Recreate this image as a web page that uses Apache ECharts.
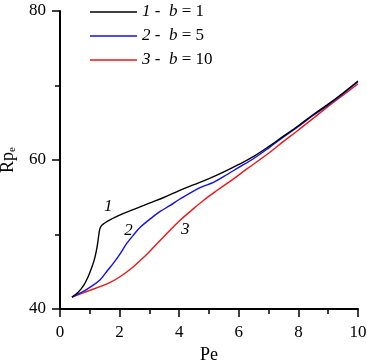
<!DOCTYPE html>
<html><head><meta charset="utf-8">
<script src="https://cdn.jsdelivr.net/npm/echarts@6/dist/echarts.min.js"></script>
<style>html,body{margin:0;padding:0;background:#fff}#c{width:367px;height:364px}</style>
</head><body><div id="c"></div>
<script>
var pe1 = [0.4,0.6,0.8,0.95,1.05,1.15,1.22,1.27,1.31,1.35,1.42,1.6,2.0,2.5,3.0,3.5,4.0,4.5,5.0,5.5,6.0,6.5,7.0,7.5,8.0,8.5,9.0,9.5,10];
var rp1 = [41.6,42.2,43.2,44.4,45.4,46.6,47.8,49.0,50.2,50.9,51.3,51.8,52.6,53.4,54.2,55.0,55.9,56.7,57.5,58.4,59.4,60.5,61.8,63.2,64.6,66.1,67.5,69.0,70.6];
var pe2 = [0.4,0.8,1.0,1.34,1.6,1.8,2.0,2.24,2.5,2.7,3.0,3.36,3.7,4.0,4.7,5.15,5.5,6.0,6.5,7.0,7.4,8.0,8.5,9.0,9.5,10];
var rp2 = [41.6,42.4,42.9,43.9,45.2,46.2,47.3,48.8,50.1,51.0,52.0,53.1,53.9,54.7,56.3,57.0,57.8,59.0,60.2,61.6,62.8,64.5,66.0,67.4,68.9,70.5];
var pe3 = [0.4,0.8,1.0,1.34,1.7,2.0,2.35,2.69,3.0,3.36,3.7,4.03,4.4,4.82,5.3,5.8,6.27,7.0,7.5,7.96,8.5,9.0,9.5,10];
var rp3 = [41.6,42.2,42.5,43.0,43.6,44.3,45.3,46.5,47.7,49.2,50.6,51.9,53.2,54.6,56.0,57.4,58.8,60.9,62.5,63.9,65.6,67.2,68.7,70.2];
var seriesNames = ['1','2','3'];
var bValues = ['1','5','10'];
var curveLabelPos = [[1.62,53.8],[2.3,50.5],[4.2,50.7]];
var xTicks = [0,2,4,6,8,10];
var yTicks = [40,60,80];

function pairs(xs, ys){ return xs.map(function(x,i){return [x, ys[i]];}); }
var colors = ['#000000','#1010ee','#ee1515'];
var data = [pairs(pe1,rp1), pairs(pe2,rp2), pairs(pe3,rp3)];
var FONT = '"Liberation Serif","Times New Roman",serif';

var series = seriesNames.map(function(n,i){
  return {
    name: n, type: 'line', data: data[i], showSymbol: false, symbol: 'none',
    smooth: 0.35,
    lineStyle: {color: colors[i], width: 1.4}, itemStyle: {color: colors[i]},
    z: 3 - i,
    markPoint: {
      symbol: 'circle', symbolSize: 0,
      data: [{coord: curveLabelPos[i], value: n}],
      label: {show: true, position: 'inside', formatter: n, fontFamily: FONT, fontStyle: 'italic', fontSize: 17, color: '#000'}
    }
  };
});

var chart = echarts.init(document.getElementById('c'));
chart.setOption({
  animation: false,
  backgroundColor: '#fff',
  grid: {left: 60, right: 9, top: 11, bottom: 55, containLabel: false, outerBoundsMode: 'none'},
  legend: {
    orient: 'vertical', left: 90, top: 3, padding: 0, itemWidth: 47, itemHeight: 18, itemGap: 6,
    icon: 'path://M0,6 L47,6 L47,7.4 L0,7.4 Z',
    data: seriesNames.map(function(n,i){ return {name: n, itemStyle: {color: colors[i]}}; }),
    formatter: function(name){ var i = seriesNames.indexOf(name); return '{i|' + name + '}{t| -  }{i|b}{t| = ' + bValues[i] + '}'; },
    textStyle: {
      fontFamily: FONT, fontSize: 17, color: '#000', lineHeight: 18,
      rich: {
        i: {fontFamily: FONT, fontSize: 17, fontStyle: 'italic', color: '#000', lineHeight: 18},
        t: {fontFamily: FONT, fontSize: 17, color: '#000', lineHeight: 18}
      }
    }
  },
  xAxis: {
    type: 'value', min: 0, max: 10, interval: 2,
    name: 'Pe', nameLocation: 'middle', nameGap: 36,
    nameTextStyle: {fontFamily: FONT, fontSize: 18, color: '#000'},
    axisLine: {show: true, onZero: false, lineStyle: {color: '#000', width: 2}},
    axisTick: {show: true, inside: false, length: 8, lineStyle: {color: '#000', width: 1.5}},
    minorTick: {show: true, splitNumber: 2, length: 5, lineStyle: {color: '#000', width: 1.5}},
    axisLabel: {fontFamily: FONT, fontSize: 17, color: '#000', margin: 15, inside: false,
      formatter: function(v){ return xTicks.indexOf(v) >= 0 ? String(v) : ''; }},
    splitLine: {show: false}
  },
  yAxis: {
    type: 'value', min: 40, max: 80, interval: 20,
    name: '{a|Rp}{s|e}', nameLocation: 'middle', nameGap: 41,
    nameTextStyle: {fontFamily: FONT, fontSize: 18, color: '#000',
      rich: {a: {fontFamily: FONT, fontSize: 18, color: '#000'},
             s: {fontFamily: FONT, fontSize: 11, color: '#000', padding: [9,0,0,0]}}},
    axisLine: {show: true, onZero: false, lineStyle: {color: '#000', width: 2}},
    axisTick: {show: true, inside: false, length: 8, lineStyle: {color: '#000', width: 1.5}},
    minorTick: {show: true, splitNumber: 2, length: 5, lineStyle: {color: '#000', width: 1.5}},
    axisLabel: {fontFamily: FONT, fontSize: 17, color: '#000', margin: 14, inside: false,
      formatter: function(v){ return yTicks.indexOf(v) >= 0 ? String(v) : ''; }},
    splitLine: {show: false}
  },
  series: series
});
</script></body></html>
